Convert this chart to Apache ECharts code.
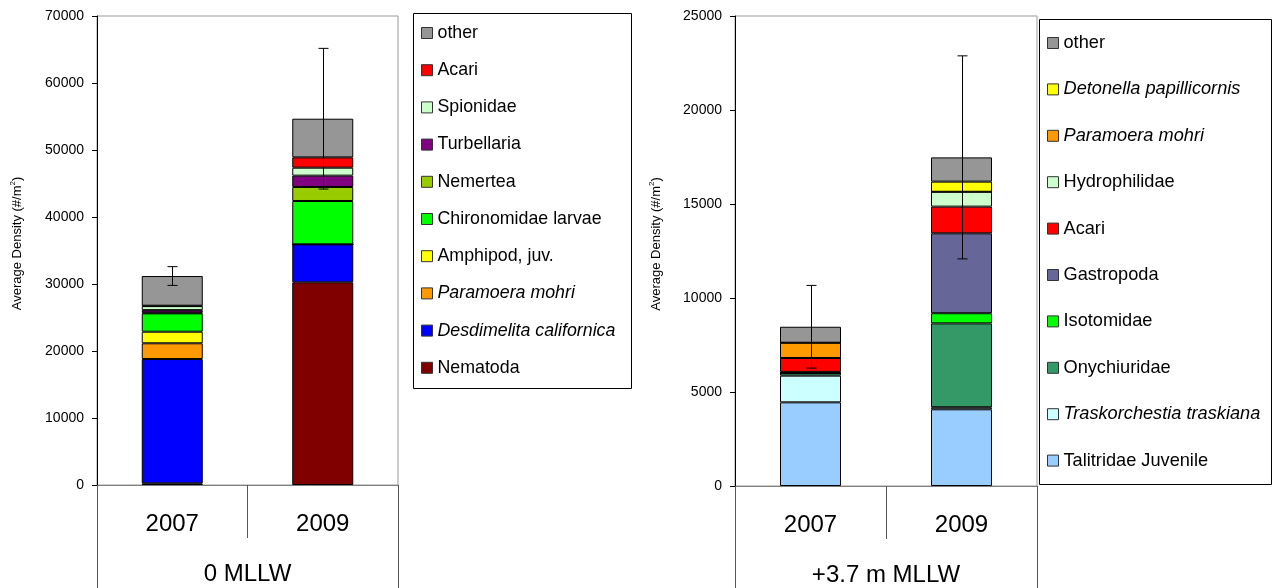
<!DOCTYPE html>
<html>
<head>
<meta charset="utf-8">
<script src="https://cdn.jsdelivr.net/npm/echarts@6/dist/echarts.min.js"></script>
<style>
  html, body { margin: 0; padding: 0; background: #fff; }
  #chart { width: 1277px; height: 588px; }
</style>
</head>
<body>
<div id="chart"></div>
<script>
// Sampling years and station groups
const years = ['2007', '2009'];
const lowStation = ['0 MLLW'];
const highStation = ['+3.7 m MLLW'];

// 0 MLLW: average density per taxon (#/m2), stacked bottom to top
const nematoda = [250, 30250];
const desdimelita = [18550, 5670];
const paramoeraLow = [2350, 0];
const amphipodJuv = [1730, 0];
const chironomidae = [2740, 6470];
const nemertea = [100, 2090];
const turbellaria = [380, 1690];
const spionidae = [600, 1190];
const acariLow = [60, 1540];
const otherLow = [4430, 5770];
const errorLow = [1400, 10500];

// +3.7 m MLLW: average density per taxon (#/m2), stacked bottom to top
const talitridae = [4450, 4080];
const traskorchestia = [1420, 110];
const onychiuridae = [140, 4460];
const isotomidae = [0, 540];
const gastropoda = [60, 4250];
const acariHigh = [740, 1420];
const hydrophilidae = [0, 790];
const paramoeraHigh = [810, 0];
const detonella = [0, 540];
const otherHigh = [850, 1290];
const errorHigh = [2200, 5400];

// Axis ticks
const lowAxis = { max: 70000, step: 10000 };
const highAxis = { max: 25000, step: 5000 };

const lowTaxa = [
  ['Nematoda', nematoda],
  ['Desdimelita californica', desdimelita],
  ['Paramoera mohri', paramoeraLow],
  ['Amphipod, juv.', amphipodJuv],
  ['Chironomidae larvae', chironomidae],
  ['Nemertea', nemertea],
  ['Turbellaria', turbellaria],
  ['Spionidae', spionidae],
  ['Acari', acariLow],
  ['other', otherLow]
];
const highTaxa = [
  ['Talitridae Juvenile', talitridae],
  ['Traskorchestia traskiana', traskorchestia],
  ['Onychiuridae', onychiuridae],
  ['Isotomidae', isotomidae],
  ['Gastropoda', gastropoda],
  ['Acari', acariHigh],
  ['Hydrophilidae', hydrophilidae],
  ['Paramoera mohri', paramoeraHigh],
  ['Detonella papillicornis', detonella],
  ['other', otherHigh]
];

const colors = {
  'Nematoda': '#800000',
  'Desdimelita californica': '#0000ff',
  'Paramoera mohri': '#ff9900',
  'Amphipod, juv.': '#ffff00',
  'Chironomidae larvae': '#00ff00',
  'Nemertea': '#99cc00',
  'Turbellaria': '#800080',
  'Spionidae': '#ccffcc',
  'Acari': '#ff0000',
  'other': '#969696',
  'Talitridae Juvenile': '#99ccff',
  'Traskorchestia traskiana': '#ccffff',
  'Onychiuridae': '#339966',
  'Isotomidae': '#00ff00',
  'Gastropoda': '#666699',
  'Hydrophilidae': '#ccffcc',
  'Detonella papillicornis': '#ffff00'
};
const italicNames = ['Desdimelita californica', 'Paramoera mohri',
  'Detonella papillicornis', 'Traskorchestia traskiana'];

const FONT = '"Liberation Sans", Arial, sans-serif';

function stackSeries(taxa, idx) {
  return taxa.map(([name, values]) => ({
    name: name,
    type: 'bar',
    stack: 'density' + idx,
    xAxisIndex: idx * 2,
    yAxisIndex: idx,
    barWidth: 61,
    data: values,
    itemStyle: { color: colors[name], borderColor: '#000', borderWidth: 1 },
    emphasis: { disabled: true },
    animation: false
  }));
}

function totals(taxa) {
  return years.map((_, i) => taxa.reduce((s, t) => s + t[1][i], 0));
}

function errorSeries(taxa, errs, idx) {
  const tot = totals(taxa);
  return {
    type: 'custom',
    xAxisIndex: idx * 2,
    yAxisIndex: idx,
    z: 10,
    silent: true,
    animation: false,
    encode: { x: 0, y: [1, 2] },
    data: tot.map((t, i) => [i, t - errs[i], t + errs[i]]),
    renderItem: function (params, api) {
      const x = api.value(0);
      const lo = api.coord([x, api.value(1)]);
      const hi = api.coord([x, api.value(2)]);
      const cx = Math.round(lo[0]) + 0.5;
      const w = 5;
      const style = { stroke: '#000', lineWidth: 1 };
      return {
        type: 'group',
        children: [
          { type: 'line', shape: { x1: cx, y1: lo[1], x2: cx, y2: hi[1] }, style: style },
          { type: 'line', shape: { x1: cx - w, y1: hi[1], x2: cx + w, y2: hi[1] }, style: style },
          { type: 'line', shape: { x1: cx - w, y1: lo[1], x2: cx + w, y2: lo[1] }, style: style }
        ]
      };
    }
  };
}

function legendFor(taxa, left, top, gap, size) {
  return {
    orient: 'vertical',
    left: left,
    top: top,
    padding: 0,
    itemWidth: 11,
    itemHeight: 11,
    itemGap: gap,
    selectedMode: false,
    icon: 'rect',
    itemStyle: { borderColor: '#333', borderWidth: 1 },
    textStyle: { fontSize: size, lineHeight: 18, color: '#000', fontFamily: FONT },
    data: taxa.slice().reverse().map(([name]) => ({
      name: name,
      textStyle: italicNames.includes(name) ? { fontStyle: 'italic' } : {}
    }))
  };
}

function yAxisFor(idx, axis, gap) {
  return {
    type: 'value',
    gridIndex: idx,
    min: 0,
    max: axis.max,
    interval: axis.step,
    name: '{a|Average Density (#/m}{s|2}{a|)}',
    nameLocation: 'middle',
    nameRotate: 90,
    nameGap: gap,
    nameTextStyle: {
      padding: [0, 0, 0, 14],
      rich: {
        a: { fontSize: 13, lineHeight: 16, color: '#000', fontFamily: FONT },
        s: { fontSize: 8, lineHeight: 9, verticalAlign: 'top', color: '#000', fontFamily: FONT }
      }
    },
    axisLine: { show: true, lineStyle: { color: '#000', width: 1 } },
    axisTick: { show: true, inside: false, length: 5, lineStyle: { color: '#000' } },
    axisLabel: {
      margin: 13, fontSize: 14, color: '#000', fontFamily: FONT,
      formatter: v => String(v)
    },
    splitLine: { show: false }
  };
}

function xAxesFor(idx, station) {
  return [
    {
      type: 'category',
      gridIndex: idx,
      data: years,
      position: 'bottom',
      axisLine: { show: true, lineStyle: { color: '#808080', width: 1 } },
      axisTick: { show: true, alignWithLabel: false, interval: 0, length: 53,
        lineStyle: { color: '#555' } },
      axisLabel: { margin: 27, fontSize: 24, color: '#000', fontFamily: FONT }
    },
    {
      type: 'category',
      gridIndex: idx,
      data: station,
      position: 'bottom',
      offset: 53,
      axisLine: { show: false },
      axisTick: { show: true, alignWithLabel: false, interval: 0, length: 50,
        lineStyle: { color: '#555' } },
      axisLabel: { margin: 24, fontSize: 24, color: '#000', fontFamily: FONT }
    }
  ];
}

const chart = echarts.init(document.getElementById('chart'), null, { renderer: 'canvas' });

chart.setOption({
  animation: false,
  backgroundColor: '#fff',
  grid: [
    { left: 97, top: 16, width: 301, height: 469, show: true,
      borderColor: '#999', borderWidth: 1, backgroundColor: 'transparent' },
    { left: 735, top: 16, width: 302, height: 470, show: true,
      borderColor: '#999', borderWidth: 1, backgroundColor: 'transparent' }
  ],
  xAxis: [...xAxesFor(0, lowStation), ...xAxesFor(1, highStation)],
  yAxis: [yAxisFor(0, lowAxis, 72), yAxisFor(1, highAxis, 71)],
  legend: [
    legendFor(lowTaxa, 421, 24, 19.2, 17.8),
    legendFor(highTaxa, 1047, 34, 28.4, 18.2)
  ],
  graphic: [
    { type: 'rect', shape: { x: 413.5, y: 13.5, width: 218, height: 375 },
      style: { fill: 'none', stroke: '#000', lineWidth: 1 }, silent: true },
    { type: 'rect', shape: { x: 1039.5, y: 19.5, width: 232, height: 465 },
      style: { fill: 'none', stroke: '#000', lineWidth: 1 }, silent: true }
  ],
  series: [
    ...stackSeries(lowTaxa, 0),
    errorSeries(lowTaxa, errorLow, 0),
    ...stackSeries(highTaxa, 1),
    errorSeries(highTaxa, errorHigh, 1)
  ]
});
</script>
</body>
</html>
